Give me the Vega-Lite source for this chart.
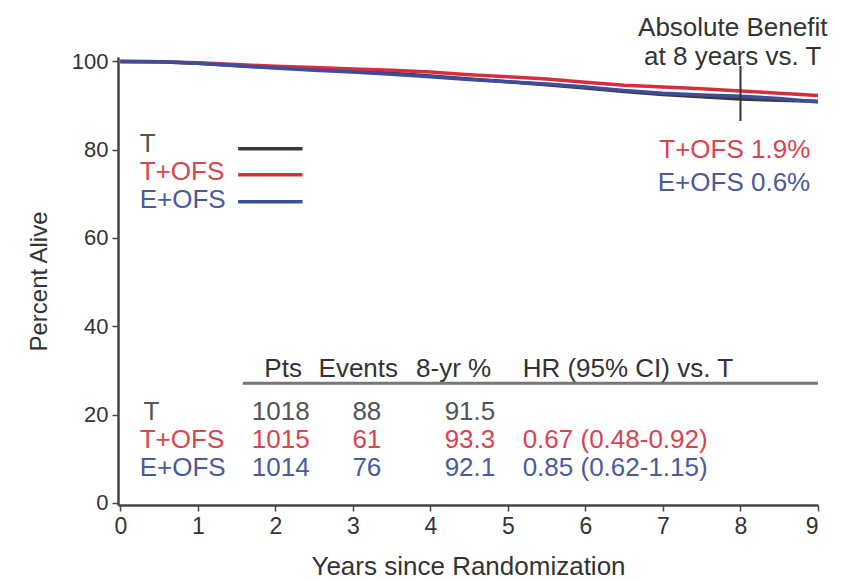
{
  "$schema": "https://vega.github.io/schema/vega-lite/v6.json",
  "width": 700,
  "height": 448,
  "autosize": {"type": "none"},
  "padding": {"left": 118, "top": 57, "right": 33, "bottom": 76},
  "background": "white",
  "config": {
    "view": {"stroke": null},
    "font": "Liberation Sans",
    "text": {"font": "Liberation Sans", "fontSize": 26, "baseline": "middle"}
  },
  "datasets": {
    "curves": [
      {"arm": "T", "year": 0, "pct": 100}, {"arm": "T", "year": 0.5, "pct": 99.9}, {"arm": "T", "year": 1, "pct": 99.6},
      {"arm": "T", "year": 1.5, "pct": 99.1}, {"arm": "T", "year": 2, "pct": 98.6}, {"arm": "T", "year": 2.5, "pct": 98.2},
      {"arm": "T", "year": 3, "pct": 97.8}, {"arm": "T", "year": 3.5, "pct": 97.3}, {"arm": "T", "year": 4, "pct": 96.7},
      {"arm": "T", "year": 4.5, "pct": 96.0}, {"arm": "T", "year": 5, "pct": 95.4}, {"arm": "T", "year": 5.5, "pct": 94.7},
      {"arm": "T", "year": 6, "pct": 94.0}, {"arm": "T", "year": 6.5, "pct": 93.2}, {"arm": "T", "year": 7, "pct": 92.5},
      {"arm": "T", "year": 7.5, "pct": 92.0}, {"arm": "T", "year": 8, "pct": 91.5}, {"arm": "T", "year": 8.5, "pct": 91.2},
      {"arm": "T", "year": 9, "pct": 91.0},
      {"arm": "T+OFS", "year": 0, "pct": 100}, {"arm": "T+OFS", "year": 0.5, "pct": 99.9}, {"arm": "T+OFS", "year": 1, "pct": 99.7},
      {"arm": "T+OFS", "year": 1.5, "pct": 99.3}, {"arm": "T+OFS", "year": 2, "pct": 98.9}, {"arm": "T+OFS", "year": 2.5, "pct": 98.6},
      {"arm": "T+OFS", "year": 3, "pct": 98.3}, {"arm": "T+OFS", "year": 3.5, "pct": 98.0}, {"arm": "T+OFS", "year": 4, "pct": 97.6},
      {"arm": "T+OFS", "year": 4.5, "pct": 97.0}, {"arm": "T+OFS", "year": 5, "pct": 96.5}, {"arm": "T+OFS", "year": 5.5, "pct": 96.0},
      {"arm": "T+OFS", "year": 6, "pct": 95.3}, {"arm": "T+OFS", "year": 6.5, "pct": 94.6}, {"arm": "T+OFS", "year": 7, "pct": 94.2},
      {"arm": "T+OFS", "year": 7.5, "pct": 93.8}, {"arm": "T+OFS", "year": 8, "pct": 93.3}, {"arm": "T+OFS", "year": 8.5, "pct": 92.8},
      {"arm": "T+OFS", "year": 9, "pct": 92.3},
      {"arm": "E+OFS", "year": 0, "pct": 100}, {"arm": "E+OFS", "year": 0.5, "pct": 99.9}, {"arm": "E+OFS", "year": 1, "pct": 99.6},
      {"arm": "E+OFS", "year": 1.5, "pct": 99.0}, {"arm": "E+OFS", "year": 2, "pct": 98.5}, {"arm": "E+OFS", "year": 2.5, "pct": 98.0},
      {"arm": "E+OFS", "year": 3, "pct": 97.6}, {"arm": "E+OFS", "year": 3.5, "pct": 97.1}, {"arm": "E+OFS", "year": 4, "pct": 96.5},
      {"arm": "E+OFS", "year": 4.5, "pct": 95.9}, {"arm": "E+OFS", "year": 5, "pct": 95.4}, {"arm": "E+OFS", "year": 5.5, "pct": 94.9},
      {"arm": "E+OFS", "year": 6, "pct": 94.2}, {"arm": "E+OFS", "year": 6.5, "pct": 93.4}, {"arm": "E+OFS", "year": 7, "pct": 92.8},
      {"arm": "E+OFS", "year": 7.5, "pct": 92.4}, {"arm": "E+OFS", "year": 8, "pct": 92.1}, {"arm": "E+OFS", "year": 8.5, "pct": 91.6},
      {"arm": "E+OFS", "year": 9, "pct": 90.8}
    ],
    "keyLines": [
      {"arm": "T", "x": 1.52, "x2": 2.35, "y": 80.2},
      {"arm": "T+OFS", "x": 1.52, "x2": 2.35, "y": 74.3},
      {"arm": "E+OFS", "x": 1.52, "x2": 2.35, "y": 68.2}
    ],
    "leftText": [
      {"g": "T", "t": "T", "x": 0.25, "y": 81.3},
      {"g": "T+OFS", "t": "T+OFS", "x": 0.25, "y": 74.9},
      {"g": "E+OFS", "t": "E+OFS", "x": 0.25, "y": 68.6},
      {"g": "hdr", "t": "HR (95% CI) vs. T", "x": 5.19, "y": 30.3},
      {"g": "T", "t": "T", "x": 0.3, "y": 20.5},
      {"g": "T+OFS", "t": "T+OFS", "x": 0.25, "y": 14.2},
      {"g": "E+OFS", "t": "E+OFS", "x": 0.25, "y": 7.9},
      {"g": "T+OFS", "t": "0.67 (0.48-0.92)", "x": 5.19, "y": 14.2},
      {"g": "E+OFS", "t": "0.85 (0.62-1.15)", "x": 5.19, "y": 7.9}
    ],
    "centerText": [
      {"g": "hdr", "t": "Absolute Benefit", "x": 7.9, "y": 107.6},
      {"g": "hdr", "t": "at 8 years vs. T", "x": 7.9, "y": 100.9},
      {"g": "hdr", "t": "Pts", "x": 2.1, "y": 30.3},
      {"g": "hdr", "t": "Events", "x": 3.07, "y": 30.3},
      {"g": "hdr", "t": "8-yr %", "x": 4.3, "y": 30.3},
      {"g": "T", "t": "1018", "x": 2.07, "y": 20.5},
      {"g": "T+OFS", "t": "1015", "x": 2.07, "y": 14.2},
      {"g": "E+OFS", "t": "1014", "x": 2.07, "y": 7.9},
      {"g": "T", "t": "88", "x": 3.18, "y": 20.5},
      {"g": "T+OFS", "t": "61", "x": 3.18, "y": 14.2},
      {"g": "E+OFS", "t": "76", "x": 3.18, "y": 7.9},
      {"g": "T", "t": "91.5", "x": 4.51, "y": 20.5},
      {"g": "T+OFS", "t": "93.3", "x": 4.51, "y": 14.2},
      {"g": "E+OFS", "t": "92.1", "x": 4.51, "y": 7.9}
    ],
    "rightText": [
      {"g": "T+OFS", "t": "T+OFS 1.9%", "x": 8.9, "y": 79.9},
      {"g": "E+OFS", "t": "E+OFS 0.6%", "x": 8.9, "y": 72.5}
    ]
  },
  "layer": [
    {
      "data": {"name": "curves"},
      "mark": {"type": "line", "strokeWidth": 3.5},
      "encoding": {
        "x": {
          "field": "year", "type": "quantitative",
          "scale": {"domain": [-0.03, 9], "nice": false, "zero": false},
          "axis": {
            "title": "Years since Randomization", "values": [0, 1, 2, 3, 4, 5, 6, 7, 8, 9], "format": "d",
            "grid": false, "domainColor": "#444", "domainWidth": 2.5, "tickColor": "#444", "tickWidth": 1.5, "tickSize": 6,
            "labelFont": "Liberation Sans", "labelFontSize": 23, "labelColor": "#333", "labelPadding": 4,
            "titleFont": "Liberation Sans", "titleFontSize": 26, "titleFontWeight": "normal", "titleColor": "#333", "titlePadding": 15
          }
        },
        "y": {
          "field": "pct", "type": "quantitative",
          "scale": {"domain": [-0.5, 101], "nice": false, "zero": false},
          "axis": {
            "title": "Percent Alive", "values": [0, 20, 40, 60, 80, 100],
            "grid": false, "domainColor": "#444", "domainWidth": 2.5, "tickColor": "#444", "tickWidth": 1.5, "tickSize": 6,
            "labelFont": "Liberation Sans", "labelFontSize": 22, "labelColor": "#333", "labelPadding": 4,
            "titleFont": "Liberation Sans", "titleFontSize": 24, "titleFontWeight": "normal", "titleColor": "#333", "titlePadding": 20
          }
        },
        "color": {
          "field": "arm", "type": "nominal",
          "scale": {"domain": ["T", "T+OFS", "E+OFS"], "range": ["#3a3a3a", "#d62e3e", "#3d4d9c"]},
          "legend": null
        },
        "order": {"field": "year", "type": "quantitative"}
      }
    },
    {
      "data": {"name": "keyLines"},
      "mark": {"type": "rule", "strokeWidth": 3.5},
      "encoding": {
        "x": {"field": "x", "type": "quantitative"},
        "x2": {"field": "x2"},
        "y": {"field": "y", "type": "quantitative"},
        "color": {"field": "arm", "type": "nominal"}
      }
    },
    {
      "data": {"values": [{"x": 8, "y": 99.0, "y2": 86.5}]},
      "mark": {"type": "rule", "strokeWidth": 2, "color": "#333"},
      "encoding": {
        "x": {"field": "x", "type": "quantitative"},
        "y": {"field": "y", "type": "quantitative"},
        "y2": {"field": "y2"}
      }
    },
    {
      "data": {"values": [{"x": 1.58, "x2": 9.0, "y": 27.1}]},
      "mark": {"type": "rule", "strokeWidth": 3, "color": "#777"},
      "encoding": {
        "x": {"field": "x", "type": "quantitative"},
        "x2": {"field": "x2"},
        "y": {"field": "y", "type": "quantitative"}
      }
    },
    {
      "data": {"name": "leftText"},
      "mark": {"type": "text", "align": "left"},
      "encoding": {
        "x": {"field": "x", "type": "quantitative"},
        "y": {"field": "y", "type": "quantitative"},
        "text": {"field": "t"},
        "color": {
          "condition": [
            {"test": "datum.g === 'T+OFS'", "value": "#d9444f"},
            {"test": "datum.g === 'E+OFS'", "value": "#4a5a9e"},
            {"test": "datum.g === 'T'", "value": "#555555"}
          ],
          "value": "#333333"
        }
      }
    },
    {
      "data": {"name": "centerText"},
      "mark": {"type": "text", "align": "center"},
      "encoding": {
        "x": {"field": "x", "type": "quantitative"},
        "y": {"field": "y", "type": "quantitative"},
        "text": {"field": "t"},
        "color": {
          "condition": [
            {"test": "datum.g === 'T+OFS'", "value": "#d9444f"},
            {"test": "datum.g === 'E+OFS'", "value": "#4a5a9e"},
            {"test": "datum.g === 'T'", "value": "#555555"}
          ],
          "value": "#333333"
        }
      }
    },
    {
      "data": {"name": "rightText"},
      "mark": {"type": "text", "align": "right"},
      "encoding": {
        "x": {"field": "x", "type": "quantitative"},
        "y": {"field": "y", "type": "quantitative"},
        "text": {"field": "t"},
        "color": {
          "condition": [
            {"test": "datum.g === 'T+OFS'", "value": "#d9444f"},
            {"test": "datum.g === 'E+OFS'", "value": "#4a5a9e"}
          ],
          "value": "#333333"
        }
      }
    }
  ]
}
